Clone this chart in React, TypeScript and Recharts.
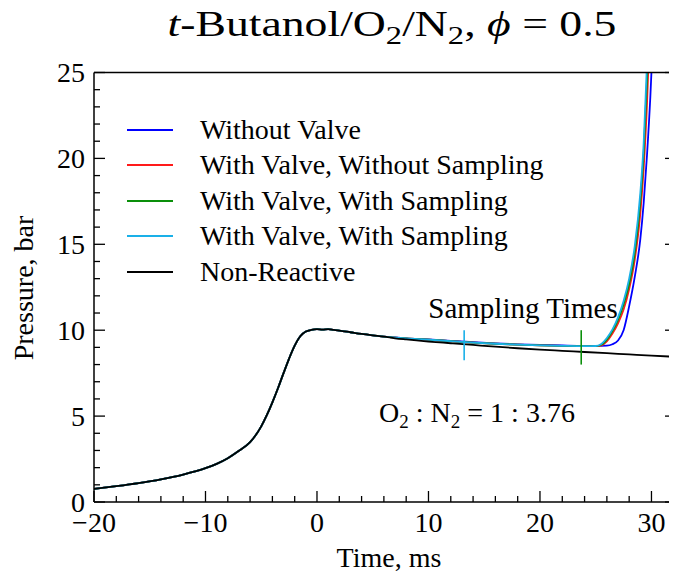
import React from "react";
import { LineChart, Line, XAxis, YAxis, ReferenceLine, Legend } from "recharts";

// ---------- data ----------
const compressionTime = [-20, -18, -16, -14, -12, -10, -9, -8, -7, -6, -5, -4.5, -4, -3.5, -3, -2.5, -2, -1.5, -1, -0.5, 0, 0.5, 1, 1.5, 2, 3, 4, 5, 6];
const compressionPressure = [0.76, 0.92, 1.1, 1.32, 1.6, 1.97, 2.22, 2.55, 2.98, 3.48, 4.4, 5.05, 5.8, 6.62, 7.5, 8.35, 9.1, 9.65, 9.92, 10.02, 10.06, 10.03, 10.06, 10.02, 9.98, 9.88, 9.78, 9.7, 9.63];

const withoutValveTime = [7, 8, 10, 12, 14, 16, 18, 20, 22, 24, 25, 26, 26.5, 27, 27.5, 28, 28.5, 29, 29.3, 29.6, 29.9, 30.1, 30.3];
const withoutValvePressure = [9.58, 9.53, 9.46, 9.38, 9.3, 9.23, 9.18, 9.14, 9.11, 9.09, 9.09, 9.1, 9.18, 9.4, 10.0, 11.4, 13.1, 15.3, 17.4, 20.2, 23.6, 26.5, 30];

const valveNoSamplingTime = [7, 8, 10, 12, 14, 16, 18, 20, 22, 24, 25, 25.5, 26, 26.5, 27, 27.5, 28, 28.5, 29, 29.3, 29.6, 29.85];
const valveNoSamplingPressure = [9.57, 9.52, 9.45, 9.36, 9.28, 9.21, 9.16, 9.12, 9.09, 9.07, 9.07, 9.12, 9.35, 9.8, 10.4, 11.2, 12.4, 14.1, 16.8, 19.4, 23.2, 27.5];

const valveSamplingATime = [7, 8, 10, 12, 14, 16, 18, 20, 22, 24, 25, 25.5, 26, 26.5, 27, 27.5, 28, 28.5, 29, 29.3, 29.6, 29.8];
const valveSamplingAPressure = [9.57, 9.52, 9.45, 9.36, 9.28, 9.21, 9.16, 9.12, 9.09, 9.07, 9.07, 9.15, 9.45, 9.95, 10.6, 11.5, 12.7, 14.5, 17.5, 20.3, 24.6, 28];

const valveSamplingBTime = [7, 8, 10, 12, 14, 16, 18, 20, 22, 24, 25, 25.5, 26, 26.5, 27, 27.5, 28, 28.5, 29, 29.3, 29.55, 29.75];
const valveSamplingBPressure = [9.57, 9.52, 9.45, 9.36, 9.28, 9.21, 9.16, 9.12, 9.09, 9.07, 9.08, 9.2, 9.55, 10.05, 10.75, 11.7, 13.0, 14.9, 18.0, 20.9, 24.8, 28];

const nonReactiveTime = [7, 8, 10, 12, 14, 16, 18, 20, 22, 24, 26, 28, 30, 32.2];
const nonReactivePressure = [9.53, 9.46, 9.34, 9.24, 9.14, 9.04, 8.95, 8.87, 8.8, 8.73, 8.66, 8.59, 8.52, 8.45];

const seriesNames = [
  "Without Valve",
  "With Valve, Without Sampling",
  "With Valve, With Sampling",
  "With Valve, With Sampling",
  "Non-Reactive",
];
const seriesColors = ["#0000ff", "#ff1a1a", "#0a8f0a", "#1ab0e8", "#000000"];

const samplingTimes = [13.2, 23.7];
const samplingColors = ["#1ab0e8", "#0a8f0a"];
const samplingLow = [8.25, 8.0];
const samplingHigh = [10.0, 10.0];

const xTicks = [-20, -18, -16, -14, -12, -10, -8, -6, -4, -2, 0, 2, 4, 6, 8, 10, 12, 14, 16, 18, 20, 22, 24, 26, 28, 30, 32];
const yTicks = [0, 1, 2, 3, 4, 5, 6, 7, 8, 9, 10, 11, 12, 13, 14, 15, 16, 17, 18, 19, 20, 21, 22, 23, 24, 25];
const xMajorStep = 10;
const yMajorStep = 5;

// ---------- build ----------
const build = (ts: number[], ps: number[]) => ts.map((t, i) => ({ t, p: ps[i] }));
const base = build(compressionTime, compressionPressure);
const seriesData = [
  base.concat(build(withoutValveTime, withoutValvePressure)),
  base.concat(build(valveNoSamplingTime, valveNoSamplingPressure)),
  base.concat(build(valveSamplingATime, valveSamplingAPressure)),
  base.concat(build(valveSamplingBTime, valveSamplingBPressure)),
  base.concat(build(nonReactiveTime, nonReactivePressure)),
];

const FONT = "'Liberation Serif', 'DejaVu Serif', serif";
const FS = 28;
const txt = { fontFamily: FONT };
const fmt = (v: number) => (v < 0 ? "\u2212" + Math.abs(v) : String(v));

const BottomTick = (props: any) => {
  const { x, y, payload } = props;
  const v = payload.value;
  const major = v % xMajorStep === 0;
  return (
    <g>
      <line x1={x} x2={x} y1={y} y2={y - (major ? 11 : 6)} stroke="#000" strokeWidth={1.3} />
      {major && (
        <text x={x} y={y + 30} textAnchor="middle" fontSize={FS} style={txt} fill="#000">
          {fmt(v)}
        </text>
      )}
    </g>
  );
};
const TopTick = (props: any) => {
  const { x, y, payload } = props;
  const major = payload.value % xMajorStep === 0;
  return <line x1={x} x2={x} y1={y} y2={y + (major ? 11 : 6)} stroke="#000" strokeWidth={1.3} />;
};
const LeftTick = (props: any) => {
  const { x, y, payload } = props;
  const v = payload.value;
  const major = v % yMajorStep === 0;
  return (
    <g>
      <line x1={x} x2={x + (major ? 11 : 6)} y1={y} y2={y} stroke="#000" strokeWidth={1.3} />
      {major && (
        <text x={x - 9} y={y + 9.5} textAnchor="end" fontSize={FS} style={txt} fill="#000">
          {fmt(v)}
        </text>
      )}
    </g>
  );
};
const RightTick = (props: any) => {
  const { x, y, payload } = props;
  const major = payload.value % yMajorStep === 0;
  return <line x1={x} x2={x - (major ? 11 : 6)} y1={y} y2={y} stroke="#000" strokeWidth={1.3} />;
};

const LegendContent = () => (
  <div style={{ fontFamily: FONT, fontSize: FS, color: "#000" }}>
    {seriesNames.map((name, i) => (
      <div key={i} style={{ display: "flex", alignItems: "center", height: 35.5, whiteSpace: "nowrap" }}>
        <div style={{ width: 46, height: 0, borderTop: `2px solid ${seriesColors[i]}`, marginRight: 27 }} />
        <span style={{ lineHeight: 1 }}>{name}</span>
      </div>
    ))}
  </div>
);

const W = 669;
const H = 569;

export default function App() {
  return (
    <div style={{ position: "relative", width: W, height: H }}>
      <LineChart width={W} height={H} margin={{ top: 54.5, right: 0, bottom: 35, left: 26 }}>
        <XAxis
          xAxisId="b"
          dataKey="t"
          type="number"
          orientation="bottom"
          domain={[-20, 32.2]}
          allowDataOverflow
          ticks={xTicks}
          interval={0}
          height={40}
          tickSize={0}
          tickMargin={0}
          tickLine={false}
          tick={<BottomTick />}
          axisLine={{ stroke: "#000", strokeWidth: 1.5 }}
        />
        <XAxis
          xAxisId="t"
          type="number"
          orientation="top"
          domain={[-20, 32.2]}
          allowDataOverflow
          ticks={xTicks}
          interval={0}
          height={10}
          tickSize={0}
          tickMargin={0}
          tickLine={false}
          tick={<TopTick />}
          axisLine={{ stroke: "#000", strokeWidth: 1.5 }}
        />
        <YAxis
          yAxisId="l"
          type="number"
          orientation="left"
          domain={[0, 25]}
          allowDataOverflow
          ticks={yTicks}
          interval={0}
          width={60}
          tickSize={0}
          tickMargin={0}
          tickLine={false}
          tick={<LeftTick />}
          axisLine={{ stroke: "#000", strokeWidth: 1.5 }}
        />
        <YAxis
          yAxisId="r"
          type="number"
          orientation="right"
          domain={[0, 25]}
          allowDataOverflow
          ticks={yTicks}
          interval={0}
          width={1}
          tickSize={0}
          tickMargin={0}
          tickLine={false}
          tick={<RightTick />}
          axisLine={{ stroke: "#000", strokeWidth: 1.5 }}
        />
        {seriesData.map((d, i) => (
          <Line
            key={i}
            xAxisId="b"
            yAxisId="l"
            data={d}
            dataKey="p"
            name={seriesNames[i]}
            type="monotone"
            stroke={seriesColors[i]}
            strokeWidth={1.8}
            dot={false}
            activeDot={false}
            isAnimationActive={false}
          />
        ))}
        {samplingTimes.map((t, i) => (
          <ReferenceLine
            key={"s" + i}
            xAxisId="b"
            yAxisId="l"
            segment={[
              { x: t, y: samplingLow[i] },
              { x: t, y: samplingHigh[i] },
            ]}
            stroke={samplingColors[i]}
            strokeWidth={1.6}
          />
        ))}
        <Legend
          layout="vertical"
          align="center"
          verticalAlign="middle"
          content={<LegendContent />}
          wrapperStyle={{ position: "absolute", left: 119, top: 104, width: 420, height: 180 }}
        />
      </LineChart>
      <svg
        width={W}
        height={H}
        style={{ position: "absolute", left: 0, top: 0, pointerEvents: "none", fontFamily: FONT }}
      >
        <text
          x={384}
          y={28}
          textAnchor="middle"
          fontSize={35}
          fill="#000"
          textLength={449}
          lengthAdjust="spacingAndGlyphs"
        >
          <tspan fontStyle="italic">t</tspan>
          <tspan>-Butanol/O</tspan>
          <tspan fontSize={25} dy={8}>2</tspan>
          <tspan dy={-8}>/N</tspan>
          <tspan fontSize={25} dy={8}>2</tspan>
          <tspan dy={-8}>{",\u00A0"}</tspan>
          <tspan fontStyle="italic">{"\u03D5"}</tspan>
          <tspan>{"\u00A0=\u00A00.5"}</tspan>
        </text>
        <text x={381} y={559} textAnchor="middle" fontSize={FS} fill="#000">
          Time, ms
        </text>
        <text transform="translate(25,280) rotate(-90)" textAnchor="middle" fontSize={FS} fill="#000">
          Pressure, bar
        </text>
        <text x={515} y={310} textAnchor="middle" fontSize={29} fill="#000">
          Sampling Times
        </text>
        <text x={469} y={414} textAnchor="middle" fontSize={FS} fill="#000">
          <tspan>O</tspan>
          <tspan fontSize={19} dy={6}>2</tspan>
          <tspan dy={-6}>{" : N"}</tspan>
          <tspan fontSize={19} dy={6}>2</tspan>
          <tspan dy={-6}>{" = 1 : 3.76"}</tspan>
        </text>
      </svg>
    </div>
  );
}
